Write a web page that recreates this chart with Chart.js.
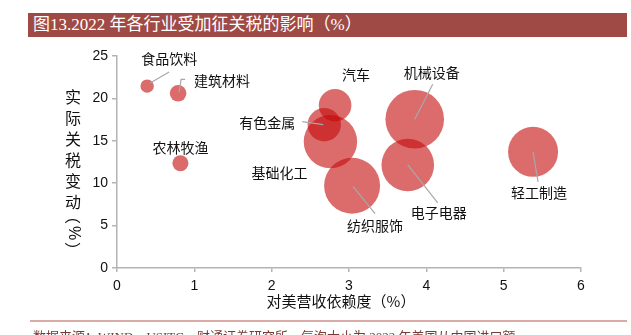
<!DOCTYPE html>
<html>
<head>
<meta charset="utf-8">
<script src="https://cdn.jsdelivr.net/npm/chart.js@4/dist/chart.umd.min.js"></script>
<style>
  html, body { margin: 0; padding: 0; background: #fff; }
  #wrap { position: relative; width: 631px; height: 335px; overflow: hidden; }
  #chart { position: absolute; left: 0; top: 0; }
  #title {
    position: absolute; left: 28px; top: 13px; width: 599px; height: 24px;
    background: #a04a46; color: #fff;
    font: 17px "Liberation Serif", "Noto Sans CJK SC", serif;
    line-height: 24px; padding-left: 5px; box-sizing: border-box; white-space: nowrap;
  }
  #rule { position: absolute; left: 30px; top: 320px; width: 597px; height: 2px; background: #d9aaa6; }
  #source {
    position: absolute; left: 33px; top: 326px; white-space: nowrap;
    font: 13px "Liberation Serif", "Noto Sans CJK SC", serif; color: #7a3a36;
  }
</style>
</head>
<body>
<div id="wrap">
  <canvas id="chart" width="631" height="335"></canvas>
  <div id="title">图13.2022 年各行业受加征关税的影响（%）</div>
  <div id="rule"></div>
  <div id="source">数据来源：WIND，USITC，财通证券研究所，气泡大小为 2022 年美国从中国进口额</div>
</div>
<script>
// Industries and their values
const industries = ['食品饮料', '建筑材料', '农林牧渔', '汽车', '有色金属', '基础化工', '纺织服饰', '机械设备', '电子电器', '轻工制造'];
const usRevenueShare = [0.39, 0.79, 0.82, 2.82, 2.68, 2.76, 3.04, 3.85, 3.76, 5.38];   // 对美营收依赖度（%）
const tariffChange   = [21.45, 20.6, 12.35, 19.2, 16.9, 14.9, 9.7, 17.55, 12.15, 13.7]; // 实际关税变动（%）
const importSize     = [6.7, 8.3, 8, 16.3, 16.7, 26.7, 28, 29.3, 26.3, 25];            // 2022 年美国从中国进口额（气泡半径）
const xTicks = [0, 1, 2, 3, 4, 5, 6];
const yTicks = [0, 5, 10, 15, 20, 25];

// Label placement: label centre and leader-line path, as pixel offsets from the bubble centre
const labelLayout = {
  '食品饮料': { dx: 22, dy: -27, leader: [[22, -14], [3, -3]] },
  '建筑材料': { dx: 44, dy: -13, leader: [[7, -14], [3, -14], [1, -1]] },
  '农林牧渔': { dx: 0, dy: -16 },
  '汽车':     { dx: 21, dy: -30 },
  '有色金属': { dx: -57, dy: -2, leader: [[-22, -3], [-1, 0]] },
  '基础化工': { dx: -51, dy: 31 },
  '纺织服饰': { dx: 23, dy: 40, leader: [[23, 28], [1, 1]] },
  '机械设备': { dx: 17, dy: -46, leader: [[18, -35], [0, 0]] },
  '电子电器': { dx: 31, dy: 48, leader: [[30, 38], [0, 0]] },
  '轻工制造': { dx: 6, dy: 41, leader: [[5, 30], [0, 0]] }
};

const CJK = '"Noto Sans CJK SC", sans-serif';

const bubbleLabels = {
  id: 'bubbleLabels',
  afterDatasetsDraw(chart) {
    const ctx = chart.ctx;
    const meta = chart.getDatasetMeta(0);
    ctx.save();
    meta.data.forEach((el, i) => {
      const name = industries[i];
      const lay = labelLayout[name];
      if (lay.leader) {
        ctx.beginPath();
        lay.leader.forEach(([ox, oy], k) => {
          if (k === 0) ctx.moveTo(el.x + ox, el.y + oy);
          else ctx.lineTo(el.x + ox, el.y + oy);
        });
        ctx.strokeStyle = '#a8a8a8';
        ctx.lineWidth = 1.2;
        ctx.stroke();
      }
      ctx.fillStyle = '#111';
      ctx.font = '14px ' + CJK;
      ctx.textAlign = 'center';
      ctx.textBaseline = 'middle';
      ctx.fillText(name, el.x + lay.dx, el.y + lay.dy);
    });
    ctx.restore();
  },
  afterDraw(chart) {
    const ctx = chart.ctx;
    const a = chart.chartArea;
    ctx.save();
    ctx.fillStyle = '#111';
    ctx.textAlign = 'center';
    ctx.textBaseline = 'middle';
    // y-axis title, stacked vertically
    ctx.font = '16px ' + CJK;
    const yx = a.left - 44;
    const chars = ['实', '际', '关', '税', '变', '动'];
    chars.forEach((c, k) => ctx.fillText(c, yx, a.top + 41 + k * 21));
    const rot = ['（', '%', '）'];
    rot.forEach((c, k) => {
      ctx.save();
      ctx.translate(yx, a.top + 160 + k * 17);
      ctx.rotate(Math.PI / 2);
      ctx.font = (c === '%' ? '16px "Liberation Sans", sans-serif' : '16px ' + CJK);
      ctx.fillText(c, 0, 0);
      ctx.restore();
    });
    // x-axis title
    ctx.font = '15px ' + CJK;
    ctx.fillText('对美营收依赖度（%）', (a.left + a.right) / 2 - 8, a.bottom + 33);
    ctx.restore();
  }
};

new Chart(document.getElementById('chart'), {
  type: 'bubble',
  data: {
    datasets: [{
      data: industries.map((n, i) => ({ x: usRevenueShare[i], y: tariffChange[i], r: importSize[i] })),
      backgroundColor: 'rgba(196, 10, 10, 0.6)',
      borderWidth: 0,
      hoverRadius: 0
    }]
  },
  options: {
    responsive: false,
    animation: false,
    events: [],
    layout: { padding: { left: 0, right: 50, top: 56, bottom: 0 } },
    plugins: { legend: { display: false }, tooltip: { enabled: false } },
    scales: {
      x: {
        type: 'linear', min: 0, max: 6,
        afterBuildTicks: s => { s.ticks = xTicks.map(v => ({ value: v })); },
        afterFit: s => { s.height = 67; },
        grid: { drawOnChartArea: false, drawTicks: true, tickLength: 4, color: '#b4b4b4', lineWidth: 1.5 },
        border: { color: '#b4b4b4', width: 1.5 },
        ticks: { color: '#111', padding: 6, maxRotation: 0, font: { family: '"Liberation Sans", Arial, sans-serif', size: 14 } }
      },
      y: {
        type: 'linear', min: 0, max: 25,
        afterBuildTicks: s => { s.ticks = yTicks.map(v => ({ value: v })); },
        afterFit: s => { s.width = 117; },
        grid: { drawOnChartArea: false, drawTicks: true, tickLength: 5, color: '#b4b4b4', lineWidth: 1.5 },
        border: { color: '#b4b4b4', width: 1.5 },
        ticks: { color: '#111', padding: 4, font: { family: '"Liberation Sans", Arial, sans-serif', size: 14 } }
      }
    }
  },
  plugins: [bubbleLabels]
});
</script>
</body>
</html>
